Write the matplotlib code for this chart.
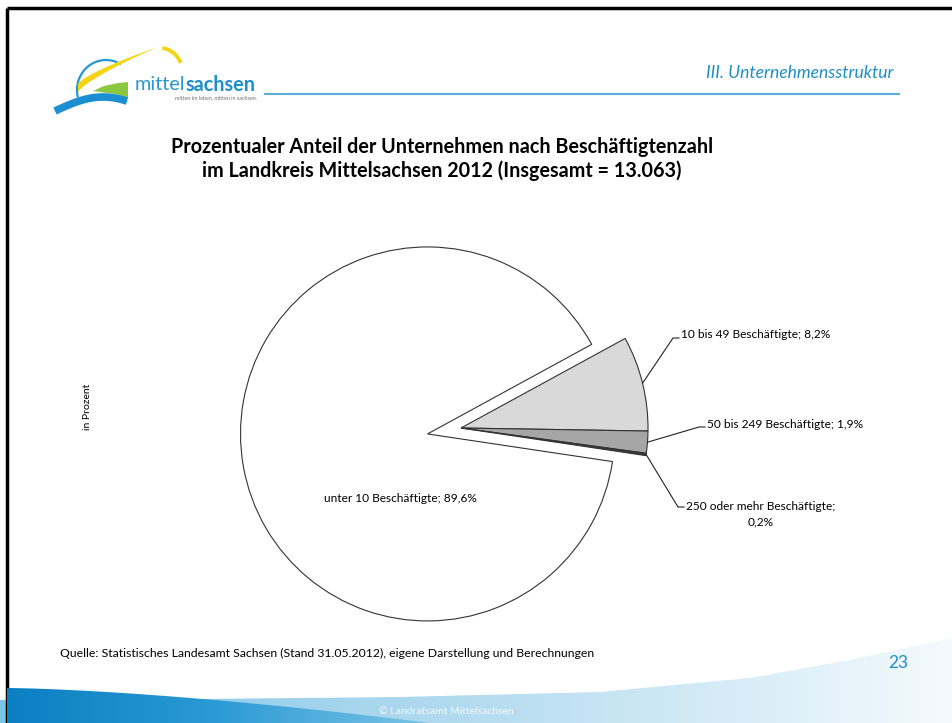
import numpy as np
import matplotlib.pyplot as plt
from matplotlib.patches import Polygon, Arc
from matplotlib.colors import LinearSegmentedColormap

plt.rcParams['font.family'] = ['Lato', 'DejaVu Sans']

# data
categories = ["unter 10 Beschäftigte", "10 bis 49 Beschäftigte",
              "50 bis 249 Beschäftigte", "250 oder mehr Beschäftigte"]
shares = [89.6, 8.2, 1.9, 0.2]
label_texts = ["unter 10 Beschäftigte; 89,6%", "10 bis 49 Beschäftigte; 8,2%",
               "50 bis 249 Beschäftigte; 1,9%", "250 oder mehr Beschäftigte;\n0,2%"]
slice_colors = ["#ffffff", "#d9d9d9", "#a6a6a6", "#3a3a3a"]

W, H = 953, 723
fig = plt.figure(figsize=(W / 100, H / 100), dpi=100)
renderer = fig.canvas.get_renderer()

# background / decoration axes in pixel coords (y down)
bg = fig.add_axes([0, 0, 1, 1])
bg.set_xlim(0, W)
bg.set_ylim(H, 0)
bg.axis("off")

# slide border
bg.plot([7, W], [8, 8], color="black", lw=2.5, solid_capstyle="butt")
bg.plot([7, 7], [8, H], color="black", lw=2.5, solid_capstyle="butt")

# header
bg.text(894, 73, "III. Unternehmensstruktur", ha="right", va="center",
        fontsize=12.6, style="italic", color="#1e8fc6")
bg.plot([265, 899], [94, 94], color="#5aafd6", lw=1.5)

# logo (rough); y axis is inverted, so arc angles are mirrored
blue = "#1b8fcf"
yellow = "#f3d516"
bg.add_patch(Arc((106, 90), 58, 60, theta1=165, theta2=300, color="#2597d2", lw=1.6))
t = np.linspace(0, 1, 40)
up_x = 78 + 80 * t
up_y = 84 - 37 * t ** 0.75
lo_y = up_y + 8 * (1 - t) ** 1.1
bg.add_patch(Polygon(np.column_stack([np.r_[up_x, up_x[::-1]], np.r_[up_y, lo_y[::-1]]]),
                     closed=True, color=yellow, lw=0))
bg.add_patch(Arc((160, 74), 46, 52, theta1=275, theta2=332, color=yellow, lw=2.8))
bg.add_patch(Polygon([[93, 91], [104, 86], [118, 83], [128, 82], [128, 98],
                      [115, 94], [100, 92]], closed=True, color="#8dc63f", lw=0))
bx = np.linspace(55, 127, 30)
by = 111 - 14 * np.sin((bx - 55) / 72 * np.pi * 0.75)
bg.plot(bx, by, color=blue, lw=5.5, solid_capstyle="butt")
t1 = bg.text(135, 85, "mittel", ha="left", va="center", fontsize=14.3, color="#2a97cf")
ext = t1.get_window_extent(renderer)
bg.text(ext.x1 + 0.5, 85, "sachsen", ha="left", va="center", fontsize=14.3,
        fontweight="bold", color=blue)
bg.text(257, 99, "mitten im leben. mitten in sachsen.", ha="right",
        va="center", fontsize=3.9, color="#6d6e71")

# title
bg.text(442, 147, "Prozentualer Anteil der Unternehmen nach Beschäftigtenzahl",
        ha="center", va="center", fontsize=14.2, fontweight="bold")
bg.text(442, 171, "im Landkreis Mittelsachsen 2012 (Insgesamt = 13.063)",
        ha="center", va="center", fontsize=14.2, fontweight="bold")

bg.text(88, 407, "in Prozent", rotation=90, ha="center", va="center", fontsize=7.5)

# bottom wave
xs = np.array([0, 200, 400, 600, 750, 850, 953])
ys = np.array([700, 699, 697, 692, 678, 660, 638])
light = Polygon(list(zip(xs, ys)) + [(W, H), (0, H)], closed=True, fc="none", ec="none")
bg.add_patch(light)
grad = np.linspace(0, 1, 256).reshape(1, -1)
cmap_l = LinearSegmentedColormap.from_list("l", ["#7cc3e6", "#b5dcf0", "#f4fafd"])
im = bg.imshow(grad, cmap=cmap_l, extent=[0, W, H, 600], aspect="auto", zorder=1)
im.set_clip_path(light)
sx = np.linspace(7, 430, 40)
sy = 688 + 35 * ((sx - 7) / 423) ** 1.5
dark = Polygon(list(zip(sx, sy)) + [(430, H), (7, H)], closed=True, fc="none", ec="none")
bg.add_patch(dark)
cmap_d = LinearSegmentedColormap.from_list("d", ["#0a7fc2", "#2c9ad4", "#7cc4e6"])
im2 = bg.imshow(grad, cmap=cmap_d, extent=[7, 430, H, 680], aspect="auto", zorder=2)
im2.set_clip_path(dark)
bg.set_xlim(0, W)
bg.set_ylim(H, 0)

bg.text(446, 712, "© Landratsamt Mittelsachsen", ha="center", va="center",
        fontsize=7.5, color="white", alpha=0.85, zorder=3)
bg.text(60, 653, "Quelle: Statistisches Landesamt Sachsen (Stand 31.05.2012), eigene Darstellung und Berechnungen",
        ha="left", va="center", fontsize=8.8, zorder=3)
bg.text(898, 663, "23", ha="center", va="center", fontsize=12.5, color="#1e8fc6", zorder=3)

# pie axes in pixel coords (y up)
ax = fig.add_axes([0, 0, 1, 1])
ax.patch.set_alpha(0)
cx, cy, r = 461, H - 428, 187
wedges, _ = ax.pie(shares, colors=slice_colors, startangle=-8.5, counterclock=False,
                   explode=[34, 0, 0, 0], center=(cx, cy), radius=r,
                   wedgeprops=dict(edgecolor="#333333", linewidth=0.8))
ax.set_xlim(0, W)
ax.set_ylim(0, H)
ax.set_aspect("auto")
ax.axis("off")

# labels
ax.text(400, H - 499, label_texts[0], ha="center", va="center", fontsize=8.6)
elbows = [None, (673, 338), (699, 427), (678, 507)]
for i in range(1, 4):
    w = wedges[i]
    mid = np.deg2rad((w.theta1 + w.theta2) / 2)
    px, py = cx + r * np.cos(mid), cy + r * np.sin(mid)
    ex, ey = elbows[i][0], H - elbows[i][1]
    ax.plot([px, ex, ex + 6], [py, ey, ey], color="#222222", lw=0.8)
for i, (tx, ty) in zip([1, 2], [(681, 334), (707, 425)]):
    ax.text(tx, H - ty, label_texts[i], ha="left", va="center", fontsize=8.6)
ax.text(761, H - 514, label_texts[3], ha="center", va="center", fontsize=8.6,
        linespacing=1.55)

fig.savefig("out.png", dpi=100)
